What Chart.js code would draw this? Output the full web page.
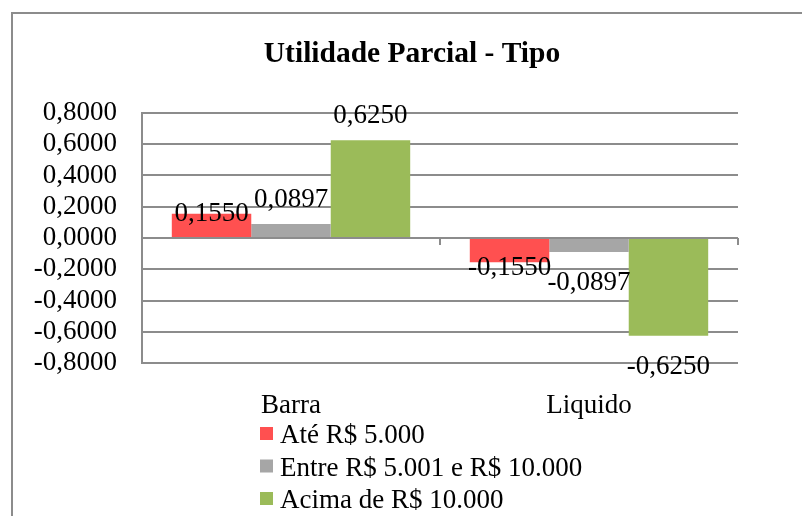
<!DOCTYPE html>
<html>
<head>
<meta charset="utf-8">
<script src="https://cdn.jsdelivr.net/npm/chart.js@4.4.1/dist/chart.umd.min.js"></script>
<style>
  html, body { margin: 0; padding: 0; background: #fff; overflow: hidden; }
  #frame { position: absolute; left: 11px; top: 12px; width: 900px; height: 600px; border: 2px solid #8c8c8c; }
  #wrap { position: absolute; left: 0; top: 0; width: 802px; height: 516px; }
</style>
</head>
<body>
<div id="frame"></div>
<div id="wrap"><canvas id="grafico" width="802" height="516"></canvas></div>
<script>
// dados
const categorias = ['Barra', 'Liquido'];
const series = ['Até R$ 5.000', 'Entre R$ 5.001 e R$ 10.000', 'Acima de R$ 10.000'];
const ate5000 = [0.1550, -0.1550];
const entre5e10 = [0.0897, -0.0897];
const acima10 = [0.6250, -0.6250];
const yMin = -0.8, yMax = 0.8, yStep = 0.2;
const titulo = 'Utilidade Parcial - Tipo';

const cores = ['#FF5050', '#A6A6A6', '#9BBB59'];
const corGrade = '#8c8c8c';
const fonte = "'Liberation Serif', 'Times New Roman', serif";

// deslocamento do rotulo (baseline) em relacao ao fim da barra
const desvioPos = [7, -17, -17];
const desvioNeg = [13, 38, 38];

function fmt(v) {
    if (Math.abs(v) < 1e-9) v = 0;
    return v.toFixed(4).replace('.', ',');
}

const extras = {
    id: 'extras',
    afterDatasetsDraw(chart) {
        const ctx = chart.ctx;
        const x = chart.scales.x, y = chart.scales.y;
        const y0 = y.getPixelForValue(0);

        // marcas no eixo zero
        ctx.save();
        ctx.strokeStyle = corGrade;
        ctx.lineWidth = 2;
        const meio = (x.getPixelForValue(1) - x.getPixelForValue(0)) / 2;
        for (let i = 0; i <= categorias.length; i++) {
            const px = Math.round(x.getPixelForValue(0) - meio + i * 2 * meio);
            ctx.beginPath();
            ctx.moveTo(px, y0);
            ctx.lineTo(px, y0 + 7);
            ctx.stroke();
        }

        // titulo
        ctx.fillStyle = '#000';
        ctx.textAlign = 'center';
        ctx.textBaseline = 'alphabetic';
        ctx.font = 'bold 29.5px ' + fonte;
        ctx.fillText(titulo, 412, 62);

        // categorias
        ctx.font = '27px ' + fonte;
        categorias.forEach(function (c, i) {
            ctx.fillText(c, x.getPixelForValue(i), 413);
        });

        // rotulos dos valores
        chart.data.datasets.forEach(function (ds, di) {
            chart.getDatasetMeta(di).data.forEach(function (bar, i) {
                const v = ds.data[i];
                const yy = v >= 0 ? bar.y + desvioPos[di] : bar.y + desvioNeg[di];
                ctx.fillText(fmt(v), bar.x, yy);
            });
        });

        // legenda vertical
        ctx.textAlign = 'left';
        chart.data.datasets.forEach(function (ds, di) {
            const base = 443 + di * 32.5;
            ctx.fillStyle = ds.backgroundColor;
            ctx.fillRect(260, base - 16, 13, 13);
            ctx.fillStyle = '#000';
            ctx.fillText(ds.label, 280, base);
        });
        ctx.restore();
    }
};

new Chart(document.getElementById('grafico'), {
    type: 'bar',
    data: {
        labels: categorias,
        datasets: [
            { label: series[0], data: ate5000, backgroundColor: cores[0] },
            { label: series[1], data: entre5e10, backgroundColor: cores[1] },
            { label: series[2], data: acima10, backgroundColor: cores[2] }
        ]
    },
    options: {
        responsive: false,
        animation: false,
        categoryPercentage: 0.8,
        barPercentage: 1,
        layout: { padding: { left: 22, top: 113, right: 64, bottom: 153 } },
        plugins: {
            legend: { display: false },
            tooltip: { enabled: false },
            title: { display: false }
        },
        scales: {
            x: {
                grid: { display: false },
                border: { display: false },
                ticks: { display: false },
                afterFit: function (s) { s.height = 0; }
            },
            y: {
                min: yMin,
                max: yMax,
                ticks: {
                    stepSize: yStep,
                    autoSkip: false,
                    color: '#000',
                    font: { family: fonte, size: 27 },
                    padding: 25,
                    callback: function (v) { return fmt(v); }
                },
                grid: { color: corGrade, lineWidth: 2, drawTicks: false },
                border: { display: true, color: corGrade, width: 2 },
                afterFit: function (s) { s.width = 120; }
            }
        }
    },
    plugins: [extras]
});
</script>
</body>
</html>
